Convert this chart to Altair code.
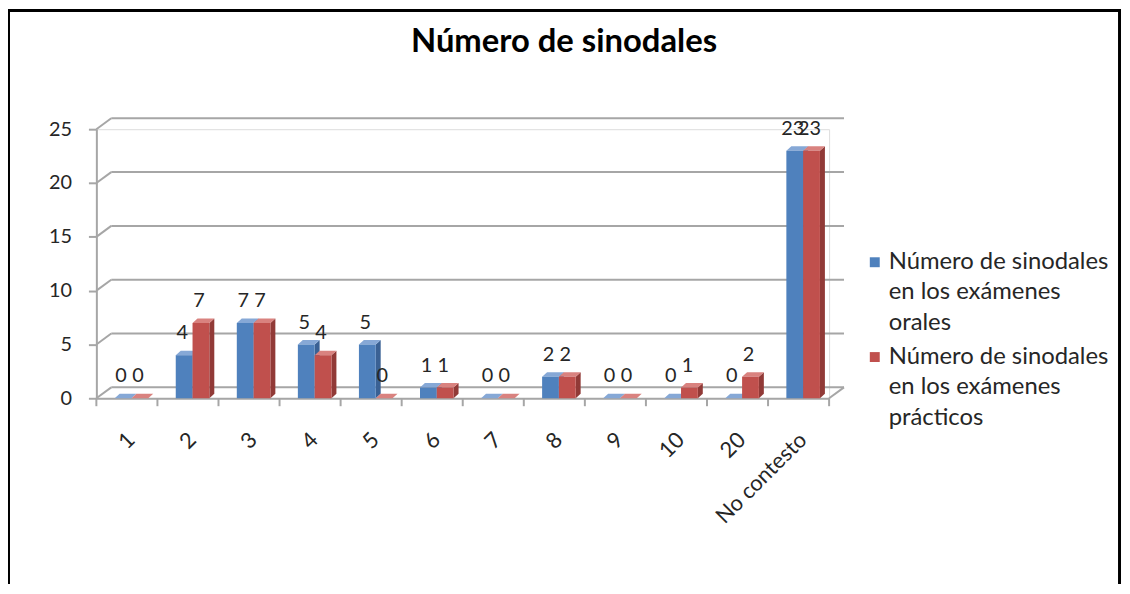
import json
import altair as alt
import pandas as pd

# ---------------- data ----------------
cats = ["1", "2", "3", "4", "5", "6", "7", "8", "9", "10", "20", "No contesto"]
orales = [0, 4, 7, 5, 5, 1, 0, 2, 0, 0, 0, 23]
practicos = [0, 7, 7, 4, 0, 1, 0, 2, 0, 1, 2, 23]
series = [
    "Número de sinodales en los exámenes orales",
    "Número de sinodales en los exámenes prácticos",
]
legend_lines = [
    "Número de sinodales|en los exámenes|orales",
    "Número de sinodales|en los exámenes|prácticos",
]
title_text = "Número de sinodales"
yticks = [0, 5, 10, 15, 20, 25]

# ---------------- styling ----------------
W, H = 738, 271
NC = len(cats)
WALL_DX, WALL_DY = 15, 11
BAR_DX_PX, BAR_DY_PX = 5, 4.5
dxu = BAR_DX_PX * NC / W
dyu = BAR_DY_PX * 25 / H
front_col = ["#4F81BD", "#C0504D"]
side_col = ["#3A6194", "#913A37"]
top_col = ["#86A8D6", "#D9827F"]
grid_col = "#A6A6A6"
FONT = "Lato"
TXT = "#262626"

rows = []
for i, c in enumerate(cats):
    for s, vals in enumerate([orales, practicos]):
        rows.append(dict(idx=i, cat=c, sidx=s, serie=series[s], value=vals[i], key=f"{i}-{s}"))
bars = pd.DataFrame(rows)
pts = bars.merge(pd.DataFrame({"pt": [0, 1]}), how="cross")

xs = alt.Scale(domain=[0, NC], nice=False, zero=False)
ys = alt.Scale(domain=[0, 25], nice=False)

label_expr = "%s[floor(datum.value)]" % json.dumps(cats)
AX = alt.Axis(
    values=[i + 0.5 for i in range(NC)],
    labelExpr=label_expr,
    title=None,
    grid=False,
    ticks=False,
    domainColor=grid_col,
    domainWidth=2,
    labelAngle=-45,
    labelAlign="right",
    labelBaseline="middle",
    labelPadding=38,
    labelOffset=4,
    labelFont=FONT,
    labelFontSize=22,
    labelColor=TXT,
    labelOverlap=False,
    labelFlush=False,
)
AY = alt.Axis(
    values=yticks,
    title=None,
    grid=False,
    domainColor=grid_col,
    domainWidth=2,
    tickColor=grid_col,
    tickWidth=2,
    tickSize=8,
    labelPadding=17,
    labelFont=FONT,
    labelFontSize=20,
    labelColor=TXT,
)


def X(f):
    return alt.X(f, scale=xs, axis=AX)


def Y(f):
    return alt.Y(f, scale=ys, axis=AY)


def with_pos(ch):
    return ch.transform_calculate(
        x0="datum.idx + 0.30 + datum.sidx * 0.275"
    ).transform_calculate(
        x1="datum.x0 + 0.275", xm="datum.x0 + 0.1375", base="0"
    )


def col(rng):
    return alt.Color("serie:N", scale=alt.Scale(domain=series, range=rng), legend=None)


# wall / floor gridlines
grid = pd.DataFrame({"v": yticks})
back_lines = alt.Chart(grid).mark_rule(color=grid_col, strokeWidth=2, yOffset=-WALL_DY).encode(
    y=Y("v:Q"),
    x=alt.value(WALL_DX),
    x2=alt.value(W + WALL_DX),
)
diag_lines = alt.Chart(grid).mark_rule(color=grid_col, strokeWidth=2, y2Offset=-WALL_DY).encode(
    y=Y("v:Q"),
    y2="v:Q",
    x=alt.value(0),
    x2=alt.value(WALL_DX),
)
floor_right = alt.Chart(grid.head(1)).mark_rule(color=grid_col, strokeWidth=2).encode(
    x=alt.value(W), x2=alt.value(W + WALL_DX), y=alt.value(H), y2=alt.value(H - WALL_DY)
)
bounds = pd.DataFrame({"b": list(range(NC + 1))})
xticks = alt.Chart(bounds).mark_rule(color=grid_col, strokeWidth=2).encode(
    x=X("b:Q"), y=alt.value(H), y2=alt.value(H + 8)
)

# 3D bar faces
side = with_pos(alt.Chart(pts)).transform_calculate(
    ax="datum.x1 + datum.pt * %f" % dxu,
    ay="datum.value + datum.pt * %f" % dyu,
    ay2="datum.pt * %f" % dyu,
).mark_area(orient="vertical").encode(
    x=X("ax:Q"),
    y=Y("ay:Q"),
    y2="ay2:Q",
    detail="key:N",
    color=col(side_col),
)
top = with_pos(alt.Chart(pts)).transform_calculate(
    tx0="datum.x0 + datum.pt * %f" % dxu,
    tx1="datum.x1 + datum.pt * %f" % dxu,
    ty="datum.value + datum.pt * %f" % dyu,
).mark_area(orient="horizontal").encode(
    y=Y("ty:Q"),
    x=X("tx0:Q"),
    x2="tx1:Q",
    detail="key:N",
    color=col(top_col),
)

front = with_pos(alt.Chart(bars)).mark_rect().encode(
    x=X("x0:Q"),
    x2="x1:Q",
    y=Y("value:Q"),
    y2="base:Q",
    color=col(front_col),
)

values_text = with_pos(alt.Chart(bars)).mark_text(
    dy=-22, dx=-2, font=FONT, fontSize=20, color=TXT, baseline="middle"
).encode(
    x=X("xm:Q"),
    y=Y("value:Q"),
    text="value:Q",
)

# legend (manual, to allow multi-line labels)
leg_layers = []
leg_y = [134, 229.5]
for k in range(2):
    leg_layers.append(
        alt.Chart(grid.head(1)).mark_square(size=100, color=front_col[k], opacity=1).encode(
            x=alt.value(784), y=alt.value(leg_y[k])
        )
    )
    leg_layers.append(
        alt.Chart(pd.DataFrame({"t": [legend_lines[k]]})).mark_text(
            align="left", baseline="middle", lineBreak="|", lineHeight=30.5,
            font=FONT, fontSize=24, color=TXT,
        ).encode(x=alt.value(798), y=alt.value(leg_y[k]), text="t:N")
    )

title_layer = alt.Chart(pd.DataFrame({"t": [title_text]})).mark_text(
    align="center", baseline="middle", font=FONT, fontSize=33, fontWeight="bold", color="#000000"
).encode(x=alt.value(471), y=alt.value(-88), text="t:N")

border = alt.Chart(grid.head(1)).mark_rect(
    fillOpacity=0, stroke="black", strokeWidth=3
).encode(
    x=alt.value(-88.5), x2=alt.value(1030.5), y=alt.value(-119.5), y2=alt.value(480)
)

chart = alt.layer(
    back_lines, diag_lines, floor_right, xticks, side, top, front, values_text,
    *leg_layers, title_layer, border,
).resolve_scale(color="independent").properties(
    width=W,
    height=H,
    autosize="none",
    padding={"left": 89, "top": 120, "right": 295, "bottom": 185},
).configure_view(stroke=None).configure(background="white")

chart.save("out.html", embed_options={"renderer": "svg", "actions": False})
